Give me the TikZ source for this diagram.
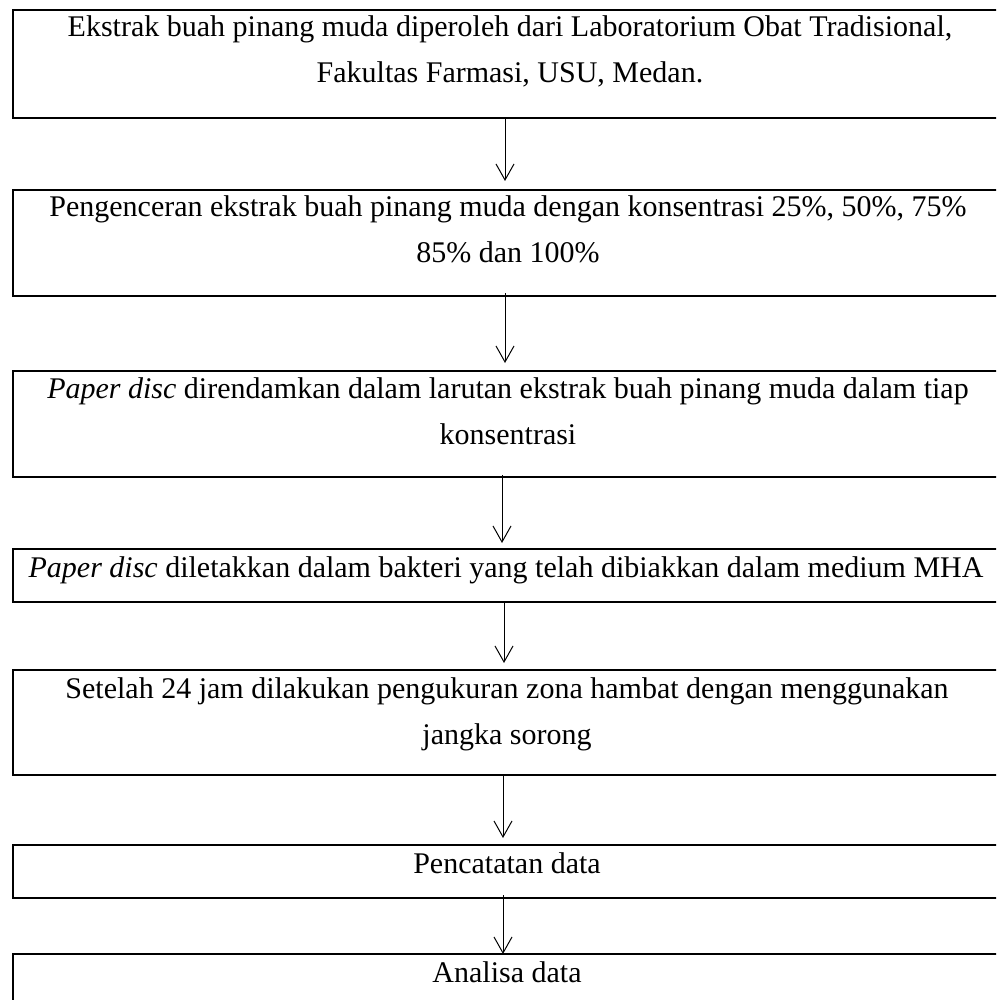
\documentclass[tikz,border=0pt]{standalone}
\usepackage{fontspec}
\setmainfont{Liberation Serif}
\usetikzlibrary{arrows.meta}
\newcommand\twoln[2]{\vtop{\baselineskip=46pt\halign{\hfil##\hfil\cr#1\cr#2\cr}}}
\begin{document}
\begin{tikzpicture}[x=1pt,y=-1pt,
  box/.style={draw, line width=2pt, rectangle, inner sep=0pt, outer sep=0pt, anchor=north west, minimum width=992pt},
  txt/.style={inner sep=0pt, anchor=base, font=\fontsize{30}{46}\selectfont},
  arr/.style={line width=1pt, -{Straight Barb[length=16pt,width=18pt,line width=1pt]}}]
\clip (0,0) rectangle (996,1000);
% boxes
\node[box, minimum height=108pt] (b1) at (12.5,10) {};
\node[box, minimum height=106pt] (b2) at (12.5,190) {};
\node[box, minimum height=106pt] (b3) at (12.5,371) {};
\node[box, minimum height=53pt]  (b4) at (12.5,549) {};
\node[box, minimum height=105pt] (b5) at (12.5,670) {};
\node[box, minimum height=53pt]  (b6) at (12.5,845) {};
\node[box, minimum height=100pt] (b7) at (12.5,954) {};
% texts
\node[txt] (t1) at (510,37) {\twoln{Ekstrak buah pinang muda diperoleh dari Laboratorium Obat Tradisional,}{Fakultas Farmasi, USU, Medan.}};
\node[txt] (t2) at (508,217) {\twoln{Pengenceran ekstrak buah pinang muda dengan konsentrasi 25\%, 50\%, 75\%}{85\% dan 100\%}};
\node[txt] (t3) at (508,398) {\twoln{\textit{Paper disc} direndamkan dalam larutan ekstrak buah pinang muda dalam tiap}{konsentrasi}};
\node[txt] (t4) at (506,577) {\textit{Paper disc} diletakkan dalam bakteri yang telah dibiakkan dalam medium MHA};
\node[txt] (t5) at (507,698) {\twoln{Setelah 24 jam dilakukan pengukuran zona hambat dengan menggunakan}{jangka sorong}};
\node[txt] (t6) at (507,873) {Pencatatan data};
\node[txt] (t7) at (507,982) {Analisa data};
% arrows
\draw[arr, shorten >=9pt] ([xshift=-3.5pt]b1.south) -- ([xshift=-3.5pt]b2.north);
\draw[arr, shorten <=-3pt, shorten >=8pt] ([xshift=-3.5pt]b2.south) -- ([xshift=-3.5pt]b3.north);
\draw[arr, shorten <=-2pt, shorten >=6pt] ([xshift=-6.5pt]b3.south) -- ([xshift=-6.5pt]b4.north);
\draw[arr, shorten >=7pt] ([xshift=-4.5pt]b4.south) -- ([xshift=-4.5pt]b5.north);
\draw[arr, shorten >=7pt] ([xshift=-5.5pt]b5.south) -- ([xshift=-5.5pt]b6.north);
\draw[arr, shorten <=-3pt] ([xshift=-5.5pt]b6.south) -- ([xshift=-5.5pt]b7.north);
\end{tikzpicture}
\end{document}
